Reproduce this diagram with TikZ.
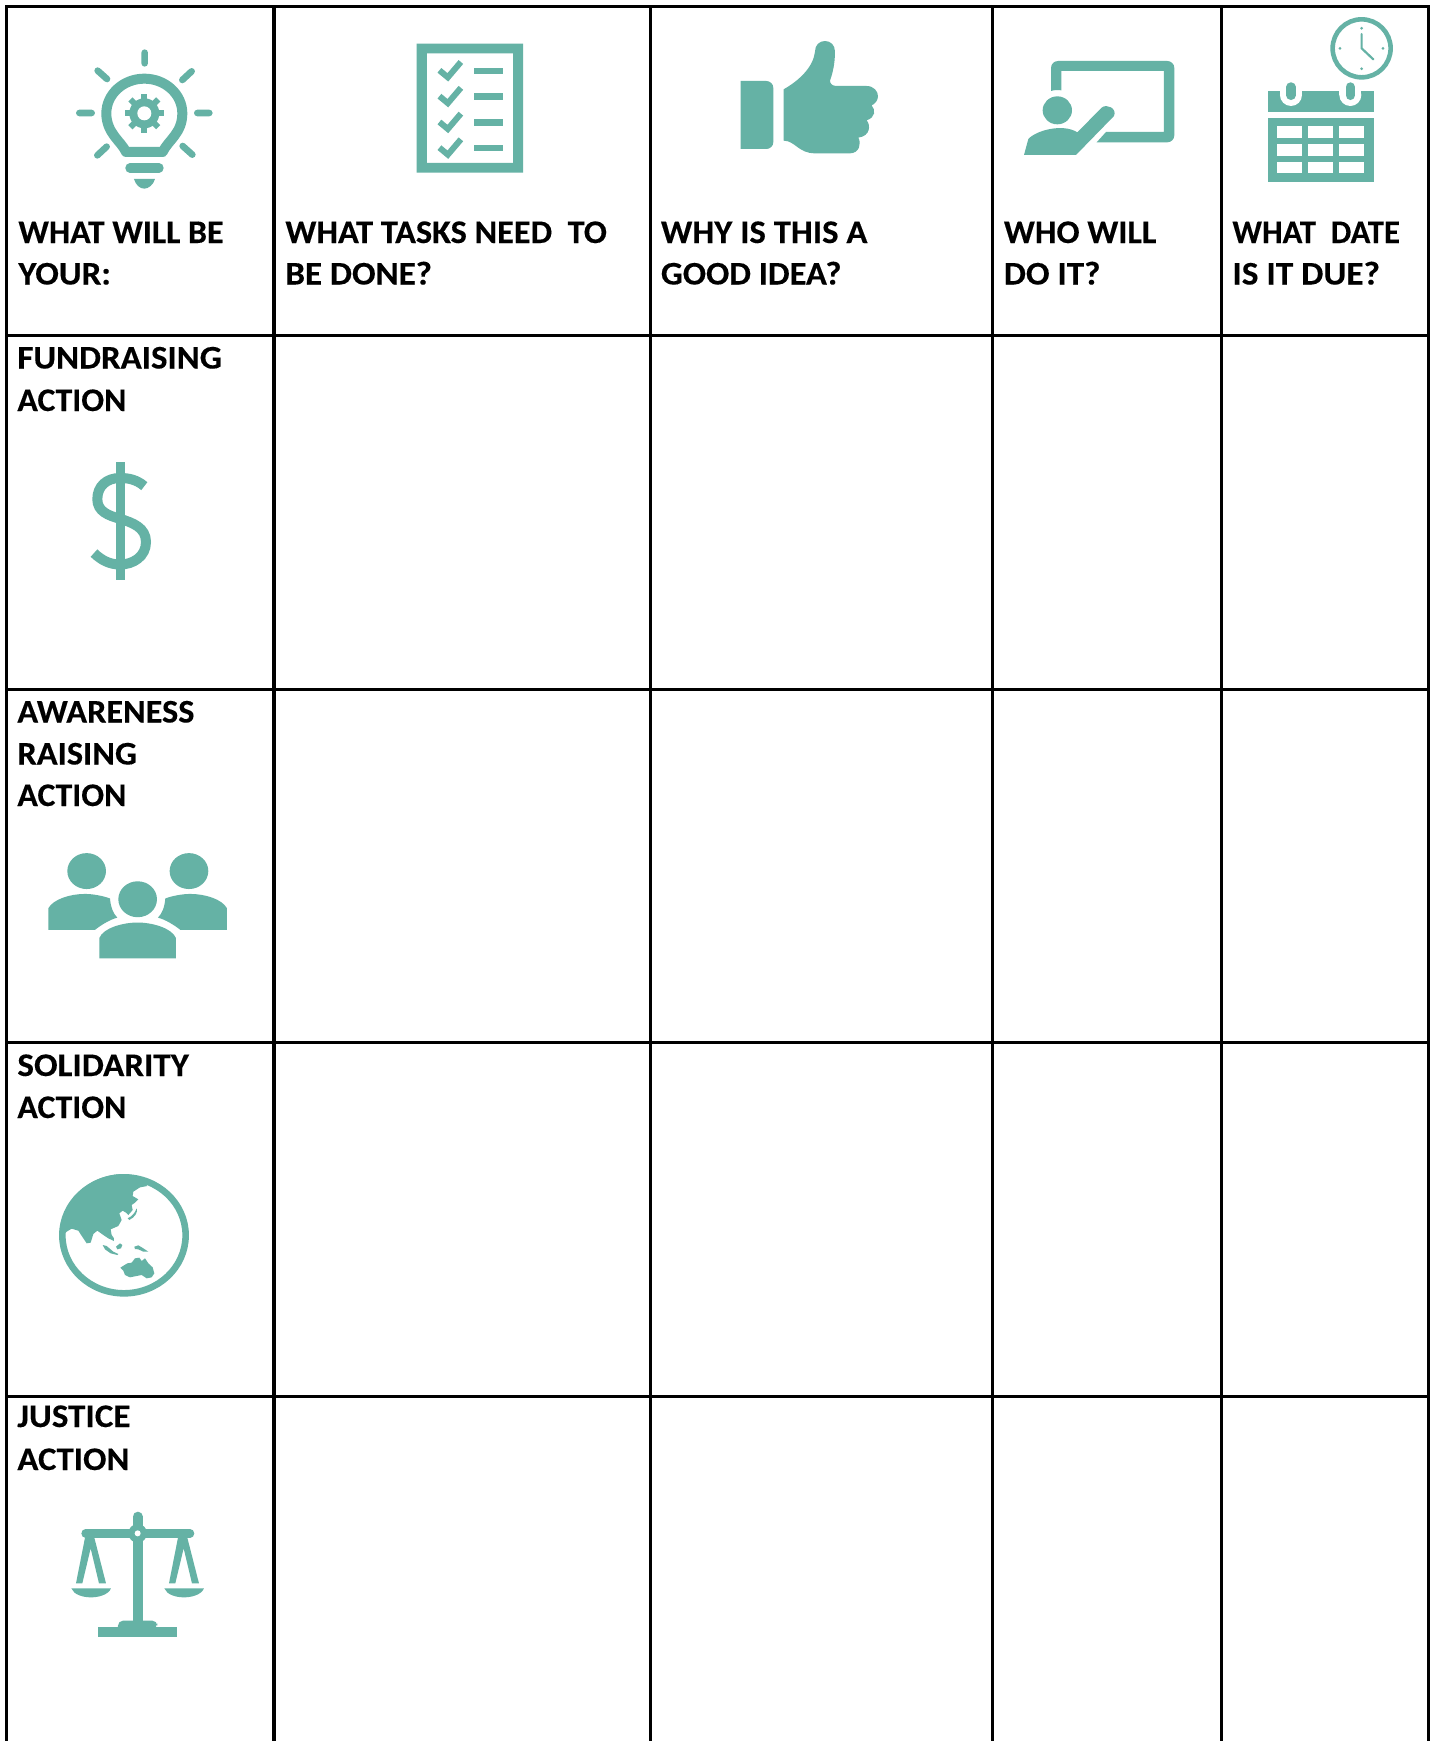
\documentclass[tikz,border=0pt]{standalone}
\usepackage{graphicx}
\usepackage{fontspec}
\setmainfont{Carlito}[BoldFeatures={FakeBold=0.25}]
\definecolor{teal1}{HTML}{65B2A5}
\newdimen\pxu \pxu=0.5pt
\newcommand\tw[2]{\resizebox{#1\pxu}{\height}{#2}}
\tikzset{
  lab/.style={anchor=base west,inner sep=0pt,font=\fontsize{16.5}{20}\selectfont\bfseries,text=black},
  gridv/.style={draw=black,line width=1.6pt,line cap=butt},
  gridh/.style={draw=black,line width=1.5pt,line cap=butt},
  ic/.style={fill=teal1,draw=none},
  ray/.style={draw=teal1,line width=3.3pt,line cap=round},
  zA/.style={xscale=0.4209,yscale=0.3333},
  zC/.style={shift={(0,340)},xscale=0.3333,yscale=0.4082},
  zE/.style={shift={(40,30)},scale=0.3333},
  zF/.style={shift={(1000,10)},scale=0.3333},
  zG/.style={shift={(40,1160)},scale=0.3333},
  zH/.style={shift={(50,1500)},scale=0.3333},
  zT/.style={shift={(730,30)},scale=0.3333}
}
\begin{document}
\begin{tikzpicture}[x=0.5pt,y=-0.5pt]
\useasboundingbox (0,0) rectangle (1434,1741);
\fill[white] (0,0) rectangle (1434,1741);
% grid
\foreach \vx in {6.5,274,650.5,992.5,1221.5,1428.5}
  \draw[gridv] (\vx,5) -- (\vx,1741);
\foreach \hy in {6,335.5,689,1042.5,1396}
  \draw[gridh] (5,\hy) -- (1430,\hy);
% header text
\node[lab] (h1a) at (18,243) {\tw{205}{WHAT WILL BE}};
\node[lab] (h1b) at (18,284.5) {\tw{92.5}{YOUR:}};
\node[lab] (h2a) at (285,243) {\tw{321.5}{WHAT TASKS NEED\ \ TO}};
\node[lab] (h2b) at (285,284.5) {\tw{146.5}{BE DONE?}};
\node[lab] (h3a) at (660.5,243) {\tw{206.5}{WHY IS THIS A}};
\node[lab] (h3b) at (660.5,284.5) {\tw{180.5}{GOOD IDEA?}};
\node[lab] (h4a) at (1003.5,243) {\tw{152.5}{WHO WILL}};
\node[lab] (h4b) at (1003.5,284.5) {\tw{96.5}{DO IT?}};
\node[lab] (h5a) at (1232,243) {\tw{167.5}{WHAT\ \ DATE}};
\node[lab] (h5b) at (1232,284.5) {\tw{147.5}{IS IT DUE?}};
% row text
\node[lab] (r1a) at (17,368.5) {\tw{204.5}{FUNDRAISING}};
\node[lab] (r1b) at (17,411) {\tw{109}{ACTION}};
\node[lab] (r2a) at (17,722.5) {\tw{177}{AWARENESS}};
\node[lab] (r2b) at (17,764.5) {\tw{119.5}{RAISING}};
\node[lab] (r2c) at (17,806) {\tw{109}{ACTION}};
\node[lab] (r3a) at (17,1076) {\tw{171.5}{SOLIDARITY}};
\node[lab] (r3b) at (17,1118) {\tw{109}{ACTION}};
\node[lab] (r4a) at (17,1427) {\tw{113}{JUSTICE}};
\node[lab] (r4b) at (17,1470) {\tw{112}{ACTION}};
% bulb
\begin{scope}[zE]
  \draw[ray] (314,68)--(314,100) (118,249)--(155,249) (472,249)--(508,249)
    (173,122)--(201,147) (455,124)--(427,150) (200,350)--(172,376) (428,348)--(457,374);
  \draw[teal1,line width=5pt,line join=round] (258,366) .. controls (245,335) and (199,310) .. (199,250)
    arc[start angle=180,end angle=0,x radius=114,y radius=-104]
    .. controls (427,310) and (385,330) .. (368,366) -- cycle;
  \foreach \ang in {0,45,...,315}
    \draw[teal1,line width=3pt] (313,250) -- ++(\ang:59);
  \fill[teal1] (313,250) circle[radius=45];
  \fill[white] (313,250) circle[radius=21];
  \draw[teal1,line width=4.7pt,line cap=round] (270,414)--(357,414);
  \fill[ic] (282,447) -- (345,447) .. controls (340,465) and (325,476) .. (313,476) .. controls (300,476) and (287,465) .. (282,447) -- cycle;
\end{scope}
% checklist
\begin{scope}[zA]
  \fill[ic,even odd rule] (990,131) rectangle (1243,518) (1014,160) rectangle (1219,489);
  \foreach \dy in {0,77.5,155,232}{
    \draw[teal1,line width=3pt] (1044,211+\dy) -- (1064,232+\dy) -- (1095,186+\dy);
    \fill[ic] (1125,203+\dy) rectangle (1195,222+\dy);
  }
\end{scope}
% thumb
\begin{scope}[zT]
  \fill[ic] (32,153) [rounded corners=3.5pt] -- (130,153) -- (130,357) [sharp corners] -- (32,357) -- cycle;
  \fill[ic] (161,178) .. controls (210,150) and (250,110) .. (255,65)
    .. controls (255,45) and (268,33) .. (285,33) .. controls (302,33) and (315,45) .. (315,65)
    .. controls (315,100) and (308,130) .. (300,152) .. controls (300,162) and (308,168) .. (320,168)
    -- (410,168) .. controls (432,168) and (445,185) .. (444,200) .. controls (443,212) and (435,222) .. (425,226)
    .. controls (437,240) and (437,262) .. (410,271) .. controls (422,285) and (422,318) .. (385,323)
    .. controls (395,340) and (388,370) .. (360,370) -- (255,370)
    .. controls (205,370) and (195,332) .. (161,332) -- cycle;
\end{scope}
% presenter
\begin{scope}[zF]
  \fill[ic] (153,243) [rounded corners=3.5pt] -- (153,153) -- (523,153) -- (523,397) [sharp corners] -- (290,397) -- (318,366) -- (492,366) -- (492,183) -- (184,183) -- (184,241) .. controls (175,239) and (162,240) .. (153,243) -- cycle;
  \fill[teal1] (172,301) ellipse[x radius=44,y radius=42];
  \fill[ic] (72,435) -- (85,387) .. controls (110,360) and (190,340) .. (232,367) -- (305,293)
    .. controls (320,280) and (352,295) .. (342,318) -- (228,435) -- cycle;
  % calendar
  \fill[ic] (804,243) rectangle (1121,305);
  \foreach \cx in {873,1051}{
    \fill[white] (\cx-33,243) rectangle (\cx+33,255);
    \fill[white] (\cx,255) circle[radius=33];
    \draw[teal1,line width=4.7pt,line cap=round] (\cx,231) -- (\cx,256);
  }
  \fill[ic] (804,323) rectangle (1121,516);
  \foreach \cx in {832,925,1018}
    \foreach \cy in {349,402,455}
      \fill[white] (\cx,\cy) rectangle (\cx+75,\cy+35);
  % clock
  \draw[teal1,line width=2.3pt] (1085,115) circle[radius=87];
  \foreach \px/\py in {1085/55,1085/176,1020/115,1149/115}
    \fill[teal1] (\px,\py) circle[radius=4.5];
  \draw[teal1,line width=1.1pt,line cap=round] (1085,72) -- (1085,115) -- (1120,148);
\end{scope}
% dollar
\begin{scope}[zC]
  \fill[ic] (347,299) rectangle (374,588);
  \draw[teal1,line width=5pt] (433,358) .. controls (410,342) and (385,338) .. (360,338) .. controls (320,338) and (292,358) .. (292,390) .. controls (292,420) and (325,430) .. (360,438) .. controls (400,448) and (438,460) .. (438,495) .. controls (438,530) and (400,550) .. (360,550) .. controls (330,550) and (305,540) .. (282,522);
  % people
  \fill[teal1] (260,1301) ellipse[x radius=58,y radius=44];
  \fill[teal1] (567,1301) ellipse[x radius=58,y radius=44];
  \fill[teal1] (413,1370) ellipse[x radius=58,y radius=44];
  \fill[ic] (145,1445) -- (145,1392) .. controls (160,1370) and (210,1357) .. (255,1357) .. controls (280,1357) and (310,1362) .. (330,1368) .. controls (332,1390) and (340,1405) .. (352,1415) .. controls (330,1420) and (305,1432) .. (285,1445) -- cycle;
  \fill[ic] (681,1445) -- (681,1392) .. controls (666,1370) and (616,1357) .. (571,1357) .. controls (546,1357) and (516,1362) .. (496,1368) .. controls (494,1390) and (486,1405) .. (474,1415) .. controls (496,1420) and (521,1432) .. (541,1445) -- cycle;
  \fill[ic] (298,1515) -- (298,1465) .. controls (310,1440) and (370,1427) .. (413,1427) .. controls (455,1427) and (515,1440) .. (528,1465) -- (528,1515) -- cycle;
\end{scope}
% globe
\begin{scope}[zG]
  \draw[teal1,line width=3.3pt] (252,226) ellipse[x radius=185,y radius=174];
  \fill[ic] (322,78) -- (300,82) -- (280,95) -- (278,108) -- (295,118) -- (285,128) -- (275,135) -- (278,150) -- (265,165) -- (258,158) -- (248,152) -- (238,160) -- (245,180) -- (235,198) -- (212,208) -- (215,225) -- (222,235) -- (222,243) -- (205,235) -- (190,225) -- (172,212) -- (160,222) -- (152,248) -- (140,250) -- (128,232) -- (115,212) -- (95,206) -- (80,215) -- (62,232) .. controls (60,120) and (150,42) .. (252,42) .. controls (280,42) and (305,55) .. (322,78) -- cycle;
  \fill[ic] (263,175) .. controls (278,168) and (285,158) .. (290,145) .. controls (295,155) and (285,172) .. (268,180) -- cycle;
  \fill[ic] (188,255) -- (200,258) -- (220,275) -- (235,282) -- (232,285) -- (212,280) -- (195,268) -- cycle;
  \fill[ic] (228,260) -- (240,250) -- (247,255) -- (243,265) -- (232,268) -- cycle;
  \fill[ic] (283,260) -- (295,256) -- (310,265) -- (325,275) -- (310,275) -- (295,268) -- (285,267) -- cycle;
  \fill[ic] (241,323) -- (262,310) -- (275,308) -- (285,295) -- (298,293) -- (305,303) -- (315,295) -- (325,310) -- (338,322) -- (343,340) -- (335,352) -- (320,355) -- (305,345) -- (290,348) -- (270,352) -- (255,345) -- (250,332) -- cycle;
\end{scope}
% scales
\begin{scope}[zH]
  \draw[teal1,line width=5pt,line cap=round] (263,50) -- (263,100);
  \fill[ic] (248,100) rectangle (278,370);
  \draw[teal1,line width=4.3pt,line cap=round] (107,100) -- (420,100);
  \fill[teal1] (263,100) circle[radius=28];
  \fill[white] (263,100) circle[radius=9];
  \foreach \sx in {0,279}{
    \fill[ic] (105+\sx,113) -- (78+\sx,250) -- (97+\sx,250) -- (122+\sx,145) -- (147+\sx,250) -- (168+\sx,250) -- (133+\sx,113) -- cycle;
    \fill[ic] (64+\sx,265) -- (183+\sx,265) .. controls (175+\sx,285) and (145+\sx,292) .. (123+\sx,292) .. controls (100+\sx,292) and (72+\sx,285) .. (64+\sx,265) -- cycle;
  }
  \fill[ic] (144,381) rectangle (382,410);
  \fill[ic,rounded corners=2.5pt] (204,385) -- (204,362) -- (322,362) -- (322,385) [sharp corners] -- cycle;
\end{scope}
\end{tikzpicture}
\end{document}
